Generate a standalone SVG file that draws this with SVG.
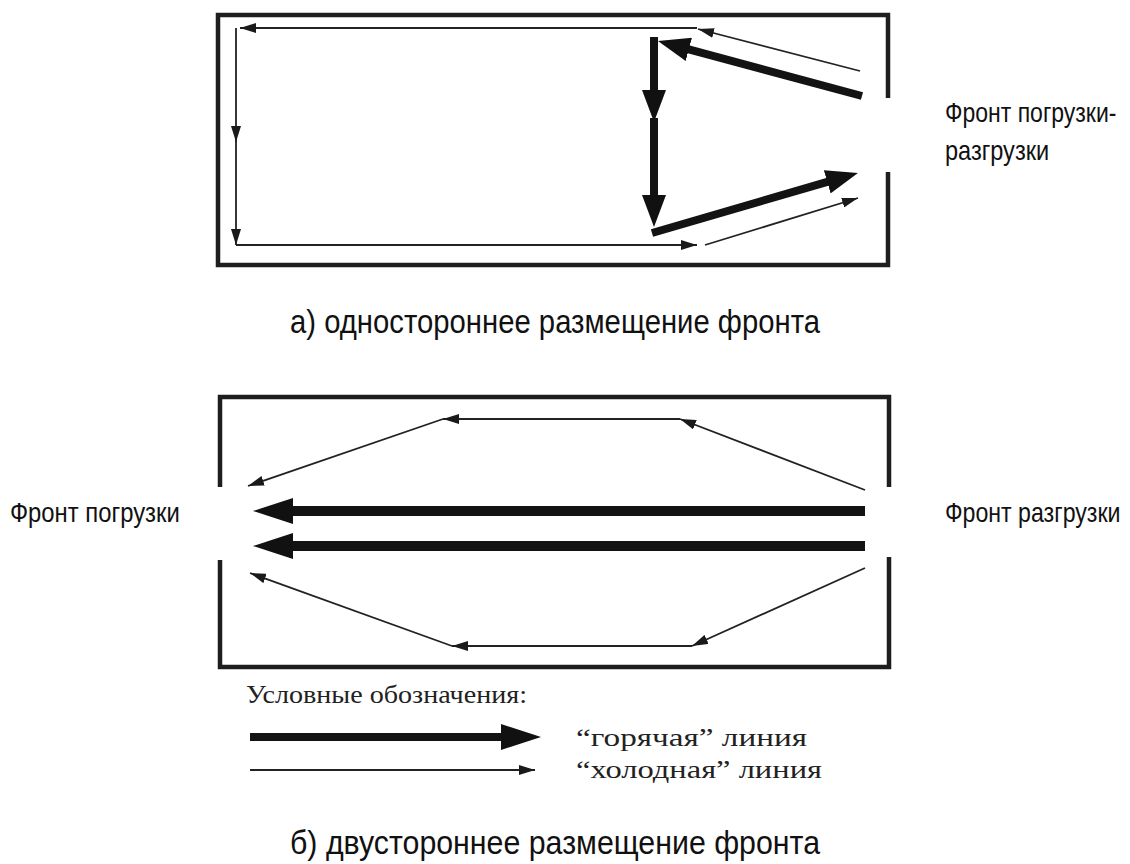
<svg xmlns="http://www.w3.org/2000/svg" width="1130" height="864" viewBox="0 0 1130 864">
<style>
.frame{fill:none;stroke:#1e1e1e;stroke-width:4.5;stroke-linejoin:miter}
.thin{fill:none;stroke:#222;stroke-width:1.8}
.thick{fill:none;stroke:#131313;stroke-width:8}
.thickB{fill:none;stroke:#131313;stroke-width:10}
.sans{font-family:"Liberation Sans",Arial,sans-serif;fill:#111}
.serif{font-family:"Liberation Serif","Times New Roman",serif;fill:#222}
</style>
<defs>
<marker id="ht" viewBox="0 0 16 10" refX="16" refY="5" markerWidth="16" markerHeight="10" markerUnits="userSpaceOnUse" orient="auto"><path d="M0,0 L16,5 L0,10 z" fill="#1a1a1a"/></marker>
<marker id="hk" viewBox="0 0 32 24" refX="1" refY="12" markerWidth="32" markerHeight="24" markerUnits="userSpaceOnUse" orient="auto"><path d="M0,0 L32,12 L0,24 z" fill="#111"/></marker>
<marker id="hb" viewBox="0 0 40 26" refX="1" refY="13" markerWidth="40" markerHeight="26" markerUnits="userSpaceOnUse" orient="auto"><path d="M0,0 L40,13 L0,26 z" fill="#111"/></marker>
</defs>

<g id="frame-a"><path class="frame" d="M888,98 V15 H218 V265 H888 V172"/></g>
<g id="frame-b"><path class="frame" d="M220,487 V397 H889 V487 M220,560 V667 H889 V557"/></g>

<g id="connectors">
  <line class="thin" x1="697" y1="28" x2="240" y2="28" marker-end="url(#ht)"/>
  <line class="thin" x1="236" y1="28" x2="236" y2="142" marker-end="url(#ht)"/>
  <line class="thin" x1="236" y1="140" x2="236" y2="245" marker-end="url(#ht)"/>
  <line class="thin" x1="236" y1="245" x2="697" y2="245" marker-end="url(#ht)"/>
  <line class="thin" x1="705" y1="245" x2="858" y2="198" marker-end="url(#ht)"/>
  <line class="thin" x1="860" y1="71" x2="698" y2="29" marker-end="url(#ht)"/>
  <line class="thick" x1="862" y1="96" x2="687.9" y2="49.1" marker-end="url(#hk)"/>
  <line class="thick" x1="654" y1="37" x2="654" y2="91" marker-end="url(#hk)"/>
  <line class="thick" x1="654" y1="118" x2="654" y2="196" marker-end="url(#hk)"/>
  <line class="thick" x1="652" y1="233" x2="828.2" y2="181.6" marker-end="url(#hk)"/>
  <line class="thickB" x1="865" y1="511" x2="292" y2="511" marker-end="url(#hb)"/>
  <line class="thickB" x1="865" y1="546" x2="292" y2="546" marker-end="url(#hb)"/>
  <line class="thin" x1="865" y1="490" x2="680" y2="419" marker-end="url(#ht)"/>
  <line class="thin" x1="680" y1="419" x2="443" y2="419" marker-end="url(#ht)"/>
  <line class="thin" x1="443" y1="419" x2="248" y2="486" marker-end="url(#ht)"/>
  <line class="thin" x1="865" y1="568" x2="692" y2="646" marker-end="url(#ht)"/>
  <line class="thin" x1="692" y1="646" x2="452" y2="646" marker-end="url(#ht)"/>
  <line class="thin" x1="452" y1="646" x2="250" y2="573" marker-end="url(#ht)"/>
  <line class="thick" x1="250" y1="737" x2="502" y2="737" marker-end="url(#hb)"/>
  <line class="thin" x1="250" y1="770" x2="535" y2="770" marker-end="url(#ht)"/>
</g>

<g id="label-front-a">
  <text class="sans" transform="translate(945,122) scale(0.82,1)" font-size="28" textLength="209" lengthAdjust="spacingAndGlyphs">Фронт погрузки-</text>
  <text class="sans" transform="translate(945,160) scale(0.82,1)" font-size="28" textLength="127" lengthAdjust="spacingAndGlyphs">разгрузки</text>
</g>
<g id="caption-a"><text class="sans" x="290" y="333" font-size="34" textLength="530" lengthAdjust="spacingAndGlyphs">а) одностороннее размещение фронта</text></g>
<g id="label-load"><text class="sans" transform="translate(10,522) scale(0.82,1)" font-size="28" textLength="207" lengthAdjust="spacingAndGlyphs">Фронт погрузки</text></g>
<g id="label-unload"><text class="sans" transform="translate(945,522) scale(0.82,1)" font-size="28" textLength="214" lengthAdjust="spacingAndGlyphs">Фронт разгрузки</text></g>
<g id="legend">
  <text class="serif" x="246" y="703" font-size="26" textLength="281" lengthAdjust="spacingAndGlyphs">Условные обозначения:</text>
  <text class="serif" x="576" y="746" font-size="26" textLength="231" lengthAdjust="spacingAndGlyphs">“горячая” линия</text>
  <text class="serif" x="576" y="778" font-size="26" textLength="246" lengthAdjust="spacingAndGlyphs">“холодная” линия</text>
</g>
<g id="caption-b"><text class="sans" x="290" y="854" font-size="34" textLength="530" lengthAdjust="spacingAndGlyphs">б) двустороннее размещение фронта</text></g>
</svg>
